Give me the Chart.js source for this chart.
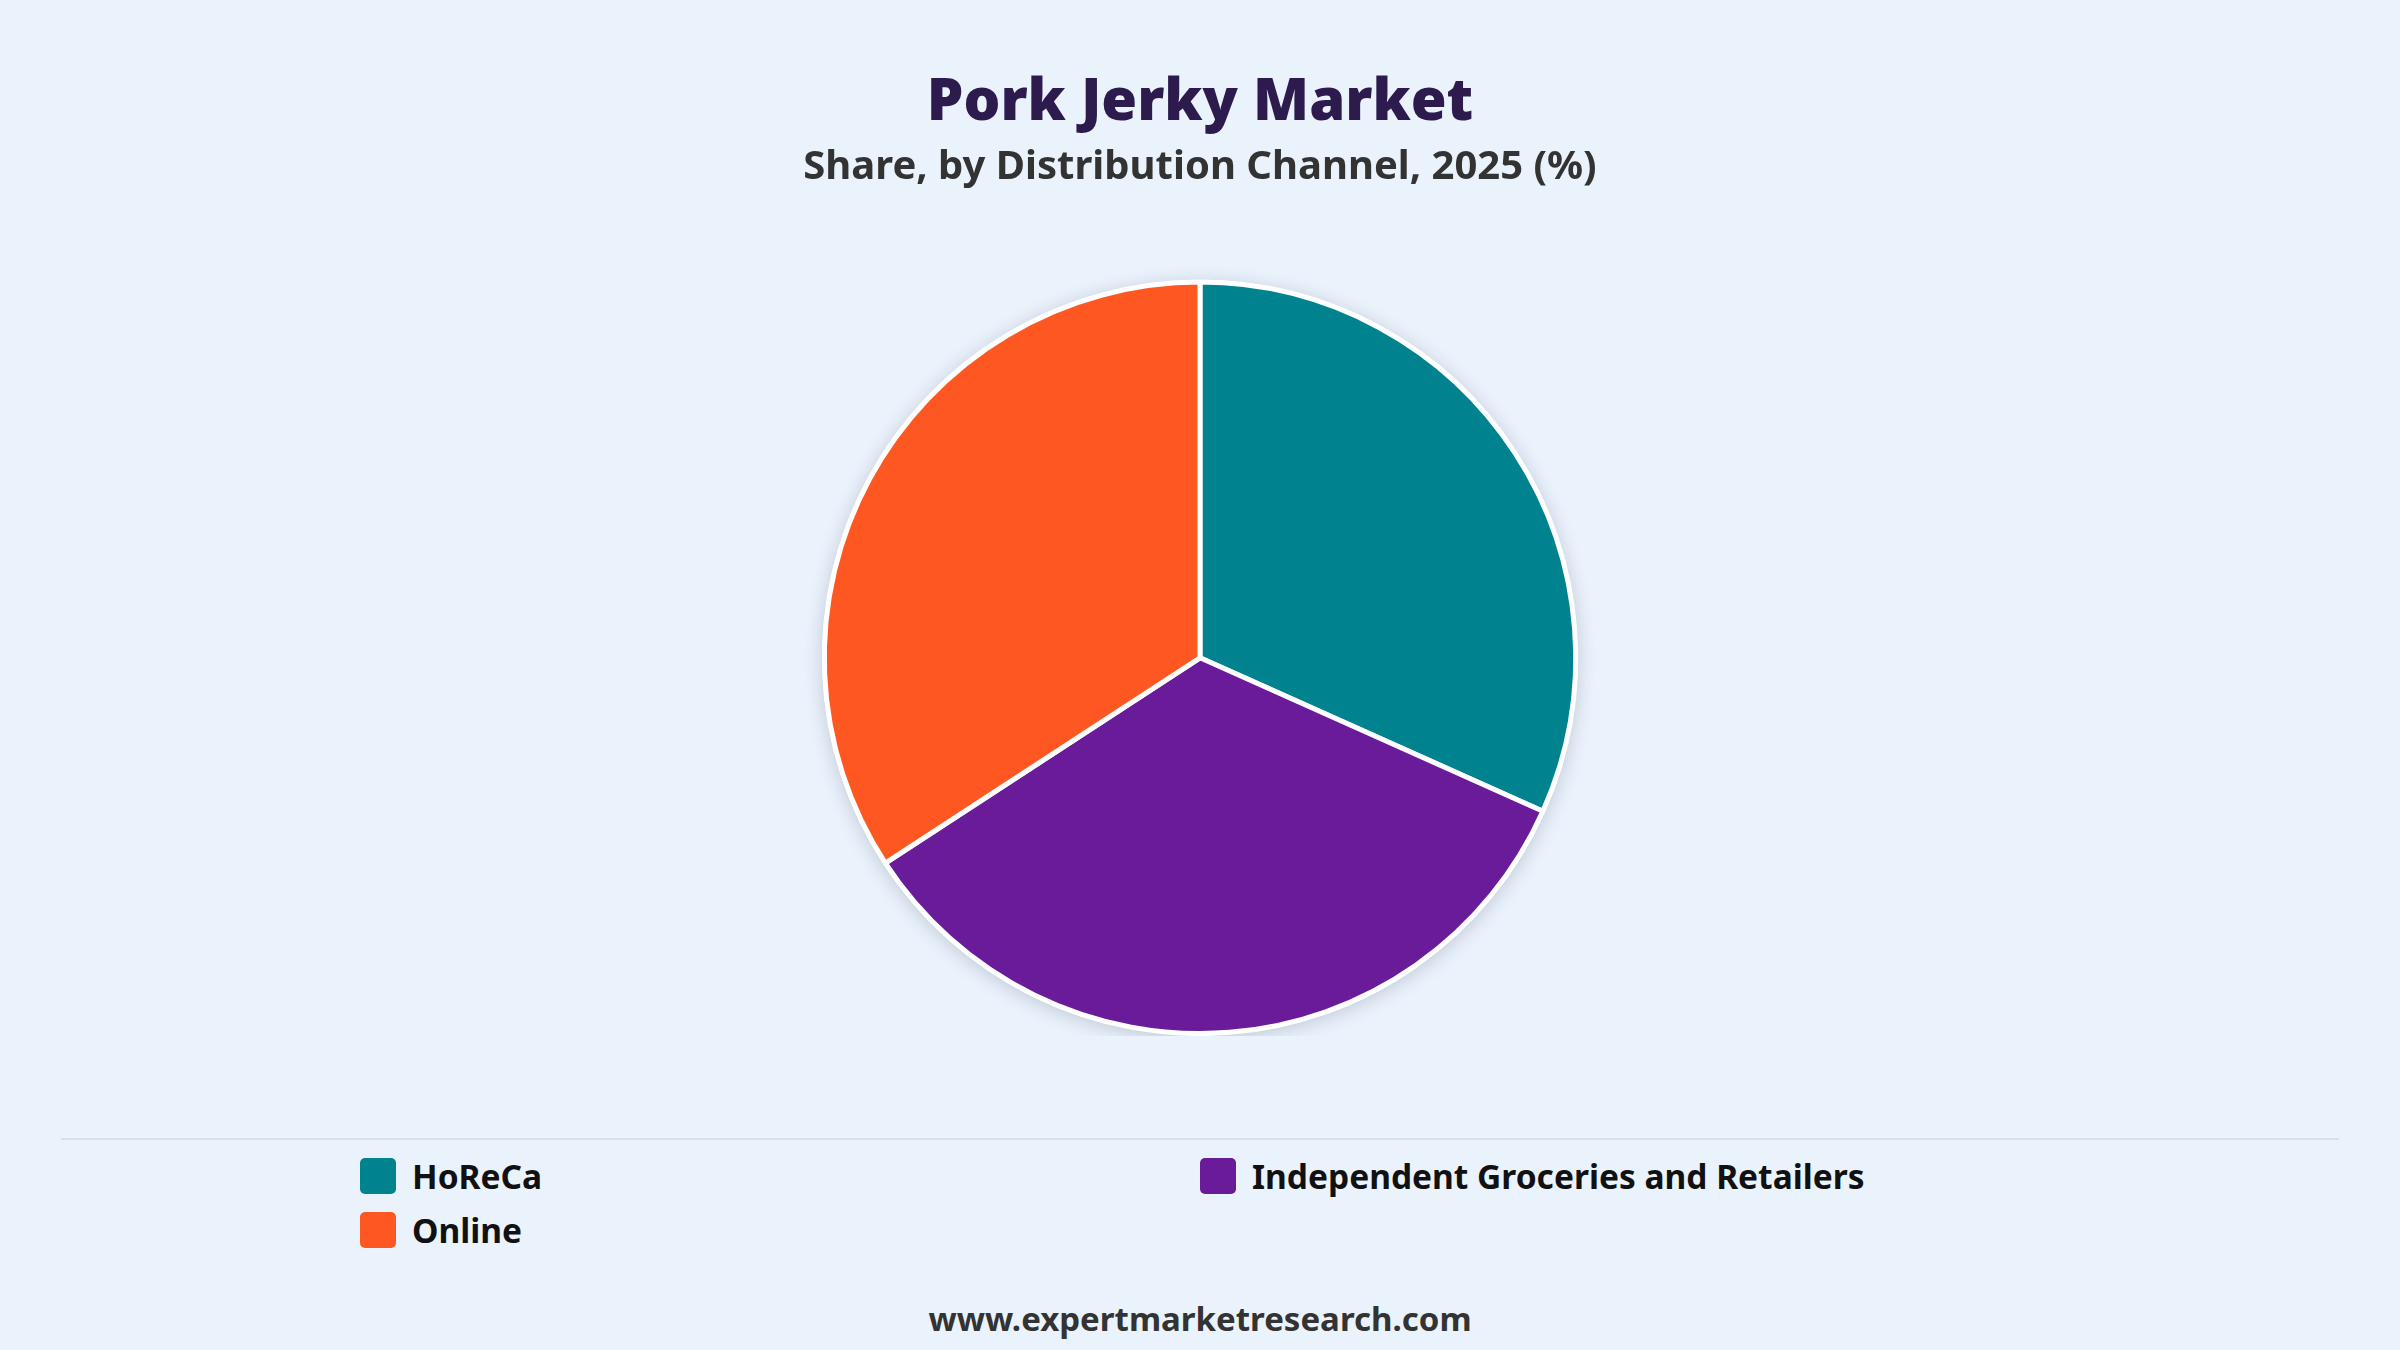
<!DOCTYPE html>
<html>
<head>
<meta charset="utf-8">
<script src="https://cdn.jsdelivr.net/npm/chart.js@4.4.1/dist/chart.umd.min.js"></script>
<style>
  html, body { margin: 0; padding: 0; }
  body {
    width: 2400px; height: 1350px; position: relative; overflow: hidden;
    background: #eaf2fc; font-family: "Noto Sans", sans-serif;
  }
  #wrap { position: absolute; left: 0; top: 0; width: 2400px; height: 1036px; }
  #sep { position: absolute; left: 61px; width: 2278px; top: 1138px; height: 2px; background: #dcdfe5; }
  #legend {
    position: absolute; left: 360px; top: 1158px;
    display: grid; grid-template-columns: 840px 840px; grid-auto-rows: 54px;
  }
  .item { display: flex; align-items: flex-start; height: 54px; }
  .box { width: 36px; height: 36px; border-radius: 5px; margin-right: 16px; flex: none; }
  .lbl { font-weight: 700; font-size: 33.5px; color: #111; line-height: 36px; }
  #footer {
    position: absolute; left: 0; width: 2400px; top: 1298px; text-align: center;
    font-weight: 700; font-size: 33px; color: #333; line-height: 42px;
  }
</style>
</head>
<body>
<div id="wrap"><canvas id="myChart"></canvas></div>
<div id="sep"></div>
<div id="legend"></div>
<div id="footer">www.expertmarketresearch.com</div>
<script>
const channels = ['HoReCa', 'Independent Groceries and Retailers', 'Online'];
const shares = [31.7, 34.1, 34.2];
const sliceColors = ['#00838f', '#6a1b9a', '#ff5722'];

// soft shadow under the whole pie
const pieShadow = {
  id: 'pieShadow',
  beforeDatasetsDraw(chart) {
    const arc = chart.getDatasetMeta(0).data[0];
    if (!arc) return;
    const ctx = chart.ctx;
    ctx.save();
    ctx.shadowColor = 'rgba(40, 50, 70, 0.22)';
    ctx.shadowBlur = 18;
    ctx.shadowOffsetY = 3;
    ctx.fillStyle = '#ffffff';
    ctx.beginPath();
    ctx.arc(arc.x, arc.y, arc.outerRadius + 2, 0, Math.PI * 2);
    ctx.fill();
    ctx.restore();
  }
};

const config = {
  type: 'pie',
  data: {
    labels: channels,
    datasets: [{
      data: shares,
      backgroundColor: sliceColors,
      borderColor: '#ffffff',
      borderWidth: 5,
      hoverOffset: 0
    }]
  },
  options: {
    responsive: true,
    maintainAspectRatio: false,
    animation: false,
    layout: { padding: 0 },
    plugins: {
      title: {
        display: true,
        text: 'Pork Jerky Market',
        color: '#2d1b4e',
        font: { family: '"Noto Sans", sans-serif', size: 58, weight: '900' },
        padding: { top: 69, bottom: 5 }
      },
      subtitle: {
        display: true,
        text: 'Share, by Distribution Channel, 2025 (%)',
        color: '#333333',
        font: { family: '"Noto Sans", sans-serif', size: 40, weight: '700' },
        padding: { top: 0, bottom: 88 }
      },
      legend: { display: false },
      tooltip: {
        displayColors: false,
        callbacks: { label: (c) => c.label + ': ' + c.parsed + '%' }
      }
    }
  },
  plugins: [pieShadow]
};

const myChart = new Chart(document.getElementById('myChart'), config);

// html legend in two columns, built from the chart's data
const legendEl = document.getElementById('legend');
myChart.data.labels.forEach((name, i) => {
  const item = document.createElement('div');
  item.className = 'item';
  const box = document.createElement('span');
  box.className = 'box';
  box.style.background = myChart.data.datasets[0].backgroundColor[i];
  const lbl = document.createElement('span');
  lbl.className = 'lbl';
  lbl.textContent = name;
  item.appendChild(box);
  item.appendChild(lbl);
  legendEl.appendChild(item);
});
</script>
</body>
</html>
